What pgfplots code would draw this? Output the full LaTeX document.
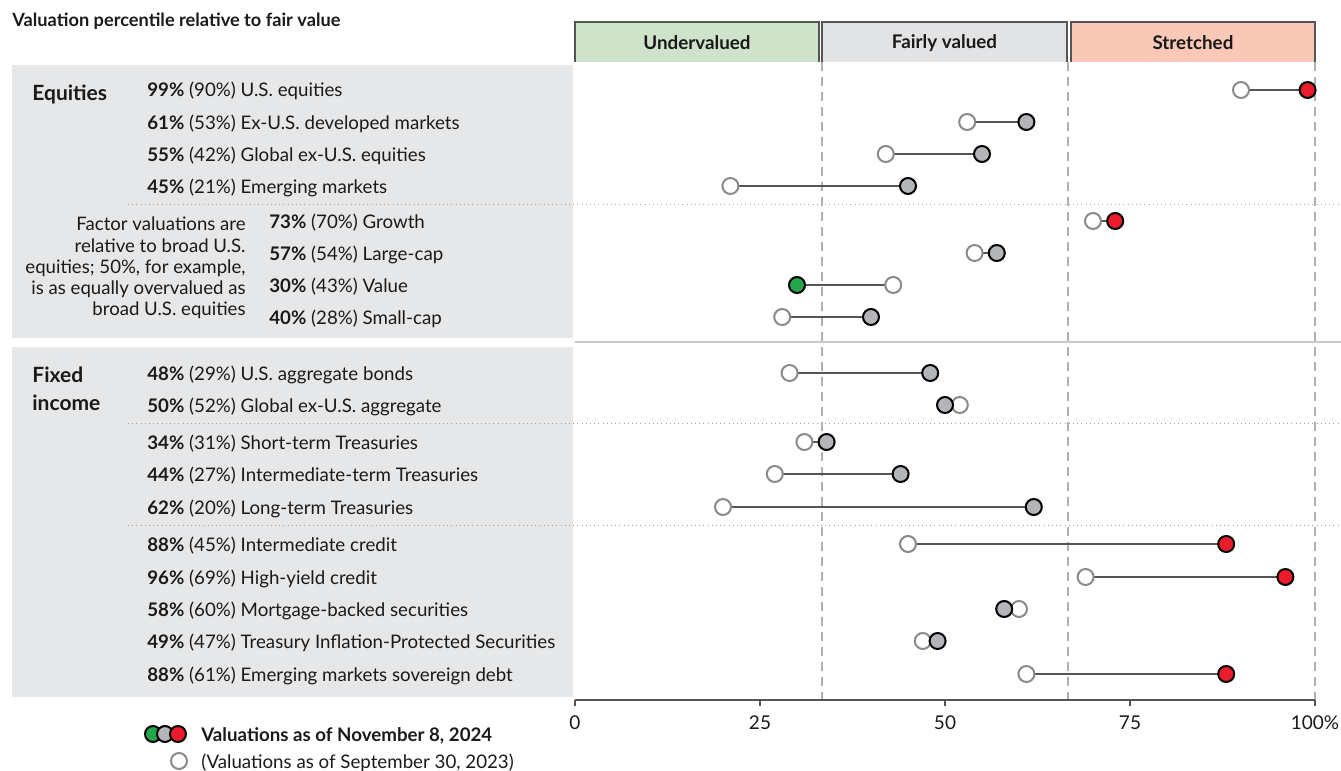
\documentclass[border=0pt]{standalone}
\usepackage{pgfplots}
\pgfplotsset{compat=1.18}
\usepackage{pgfplotstable}
\usepackage{fontspec}
\setmainfont{Lato}

\definecolor{panel}{HTML}{E6E7E8}
\definecolor{txt}{HTML}{1A1A1A}
\definecolor{undv}{HTML}{CFE3CA}
\definecolor{fair}{HTML}{E2E3E5}
\definecolor{strt}{HTML}{F9C8B6}
\definecolor{boxedge}{HTML}{555555}
\definecolor{dashc}{HTML}{B0B0B0}
\definecolor{dotc}{HTML}{A0A0A0}
\definecolor{sepc}{HTML}{C8C8C8}
\definecolor{cred}{HTML}{EC1C2D}
\definecolor{cgray}{HTML}{B3B5B8}
\definecolor{cgreen}{HTML}{22A84A}
\definecolor{oldc}{HTML}{8A8A8A}
\definecolor{connc}{HTML}{555555}

% previous valuations (September 30, 2023); y = -row position
\pgfplotstableread{
y prev
-90 90
-122 53
-154 42
-186 21
-221 70
-253 54
-285 43
-317 28
-373 29
-405 52
-442 31
-474 27
-507 20
-544 45
-577 69
-609 60
-641 47
-674 61
}\prevdata

\newcommand{\rowfont}{\fontsize{9.35}{11}\selectfont}

\begin{document}
\begin{tikzpicture}
\begin{scope}[x=0.5pt,y=-0.5pt,txt]
  % panels
  \fill[panel] (12,65) rectangle (573,338);
  \fill[panel] (12,347) rectangle (573,697);
  \draw[sepc,line width=0.75pt] (575,342) -- (1341,342);
  \foreach \yy in {204,423,525}
    \draw[dotc,line width=0.5pt,dash pattern=on 0.5pt off 1.6pt] (128,\yy) -- (1341,\yy);
  % header boxes
  \draw[boxedge,fill=undv,line width=0.6pt] (575,62) |- (819,22) -- (819,62);
  \draw[boxedge,fill=fair,line width=0.6pt] (822,62) |- (1067,22) -- (1067,62);
  \draw[boxedge,fill=strt,line width=0.6pt] (1071,62) |- (1315,22) -- (1315,62);
  \node[font=\bfseries\fontsize{9.4}{11}\selectfont] at (697,43) {Undervalued};
  \node[font=\bfseries\fontsize{9.4}{11}\selectfont] at (944.5,43) {Fairly valued};
  \node[font=\bfseries\fontsize{9.4}{11}\selectfont] at (1193,43) {Stretched};
  % zone boundaries
  \foreach \xx in {821.7,1068.3,1315}
    \draw[dashc,line width=1pt,dash pattern=on 4.5pt off 3pt] (\xx,62) -- (\xx,700);
  % title
  \node[anchor=base west,inner xsep=0pt,font=\bfseries\fontsize{9.1}{11}\selectfont] at (12,26) {Valuation percentile relative to fair value};
  % group labels
  \node[anchor=base west,inner xsep=0pt,font=\bfseries\fontsize{10.5}{12}\selectfont] at (32,100) {Equities};
  \node[anchor=base west,inner xsep=0pt,font=\bfseries\fontsize{10.5}{12}\selectfont] at (32,382) {Fixed};
  \node[anchor=base west,inner xsep=0pt,font=\bfseries\fontsize{10.5}{12}\selectfont] at (32,410) {income};
  % row labels
  \foreach \yy/\a/\b in {
      90/99/{(90\%) U.S. equities},
      122/61/{(53\%) Ex-U.S. developed markets},
      154/55/{(42\%) Global ex-U.S. equities},
      186/45/{(21\%) Emerging markets},
      373/48/{(29\%) U.S. aggregate bonds},
      405/50/{(52\%) Global ex-U.S. aggregate},
      442/34/{(31\%) Short-term Treasuries},
      474/44/{(27\%) Intermediate-term Treasuries},
      507/62/{(20\%) Long-term Treasuries},
      544/88/{(45\%) Intermediate credit},
      577/96/{(69\%) High-yield credit},
      609/58/{(60\%) Mortgage-backed securities},
      641/49/{(47\%) Treasury Inflation-Protected Securities},
      674/88/{(61\%) Emerging markets sovereign debt}}
    \node[anchor=base west,font=\rowfont,inner xsep=0pt] at (147,\yy+7) {\textbf{\a\%} \b};
  \foreach \yy/\a/\b in {
      221/73/{(70\%) Growth},
      253/57/{(54\%) Large-cap},
      285/30/{(43\%) Value},
      317/40/{(28\%) Small-cap}}
    \node[anchor=base west,font=\rowfont,inner xsep=0pt] at (269,\yy+7) {\textbf{\a\%} \b};
  \node[anchor=east,align=right,inner xsep=0pt,font=\fontsize{9.3}{10.6}\selectfont] at (246,268)
    {Factor valuations are\\relative to broad U.S.\\equities; 50\%, for example,\\is as equally overvalued as\\broad U.S. equities};
  % legend
  \draw[black,line width=1pt,fill=cgreen] (153,734) circle (4pt);
  \draw[black,line width=1pt,fill=cgray] (165,734) circle (4pt);
  \draw[black,line width=1pt,fill=cred] (178,734) circle (4pt);
  \draw[oldc,line width=1pt,fill=white] (179,761) circle (4pt);
  \node[anchor=base west,font=\bfseries\rowfont,inner xsep=0pt] at (201,741) {Valuations as of November 8, 2024};
  \node[anchor=base west,font=\rowfont,inner xsep=0pt] at (201,768) {(Valuations as of September 30, 2023)};
  \coordinate (bbA) at (0,0);
  \coordinate (bbB) at (1341,771);
\end{scope}

\begin{axis}[
    at={(287.5pt,-350pt)}, anchor=south west,
    x=3.7pt, y=0.5pt,
    xmin=0, xmax=100, ymin=-700, ymax=-62,
    clip=false,
    axis x line*=bottom, axis y line=none,
    x axis line style={-,draw=connc,line width=0.6pt},
    xtick={0,25,50,75,100},
    xticklabels={0,25,50,75,100\%},
    tick align=outside,
    major tick length=3pt,
    tick style={draw=connc,line width=0.6pt},
    x tick label style={font=\fontsize{9.5}{11}\selectfont,text=txt,yshift=-1.5pt},
    /pgf/number format/assume math mode=true,
    conn/.style={draw=connc,line width=0.6pt,no marks,forget plot},
    cur/.style={only marks,mark=*,mark size=4pt,mark options={draw=black,line width=1pt,fill=#1}},
  ]
  % connectors between the two dates
  \addplot[conn] coordinates {(90,-90) (99,-90)};
  \addplot[conn] coordinates {(53,-122) (61,-122)};
  \addplot[conn] coordinates {(42,-154) (55,-154)};
  \addplot[conn] coordinates {(21,-186) (45,-186)};
  \addplot[conn] coordinates {(70,-221) (73,-221)};
  \addplot[conn] coordinates {(54,-253) (57,-253)};
  \addplot[conn] coordinates {(30,-285) (43,-285)};
  \addplot[conn] coordinates {(28,-317) (40,-317)};
  \addplot[conn] coordinates {(29,-373) (48,-373)};
  \addplot[conn] coordinates {(50,-405) (52,-405)};
  \addplot[conn] coordinates {(31,-442) (34,-442)};
  \addplot[conn] coordinates {(27,-474) (44,-474)};
  \addplot[conn] coordinates {(20,-507) (62,-507)};
  \addplot[conn] coordinates {(45,-544) (88,-544)};
  \addplot[conn] coordinates {(69,-577) (96,-577)};
  \addplot[conn] coordinates {(58,-609) (60,-609)};
  \addplot[conn] coordinates {(47,-641) (49,-641)};
  \addplot[conn] coordinates {(61,-674) (88,-674)};
  % previous valuations
  \addplot[only marks,mark=*,mark size=4pt,mark options={draw=oldc,line width=1pt,fill=white}]
    table[x=prev,y=y] {\prevdata};
  % current valuations
  \addplot[cur=cgray] coordinates {(61,-122) (55,-154) (45,-186) (57,-253) (40,-317) (48,-373)
    (50,-405) (34,-442) (44,-474) (62,-507) (58,-609) (49,-641)};
  \addplot[cur=cred] coordinates {(99,-90) (73,-221) (88,-544) (96,-577) (88,-674)};
  \addplot[cur=cgreen] coordinates {(30,-285)};
\end{axis}
\pgfresetboundingbox
\path[use as bounding box] (bbA) rectangle (bbB);
\end{tikzpicture}
\end{document}
